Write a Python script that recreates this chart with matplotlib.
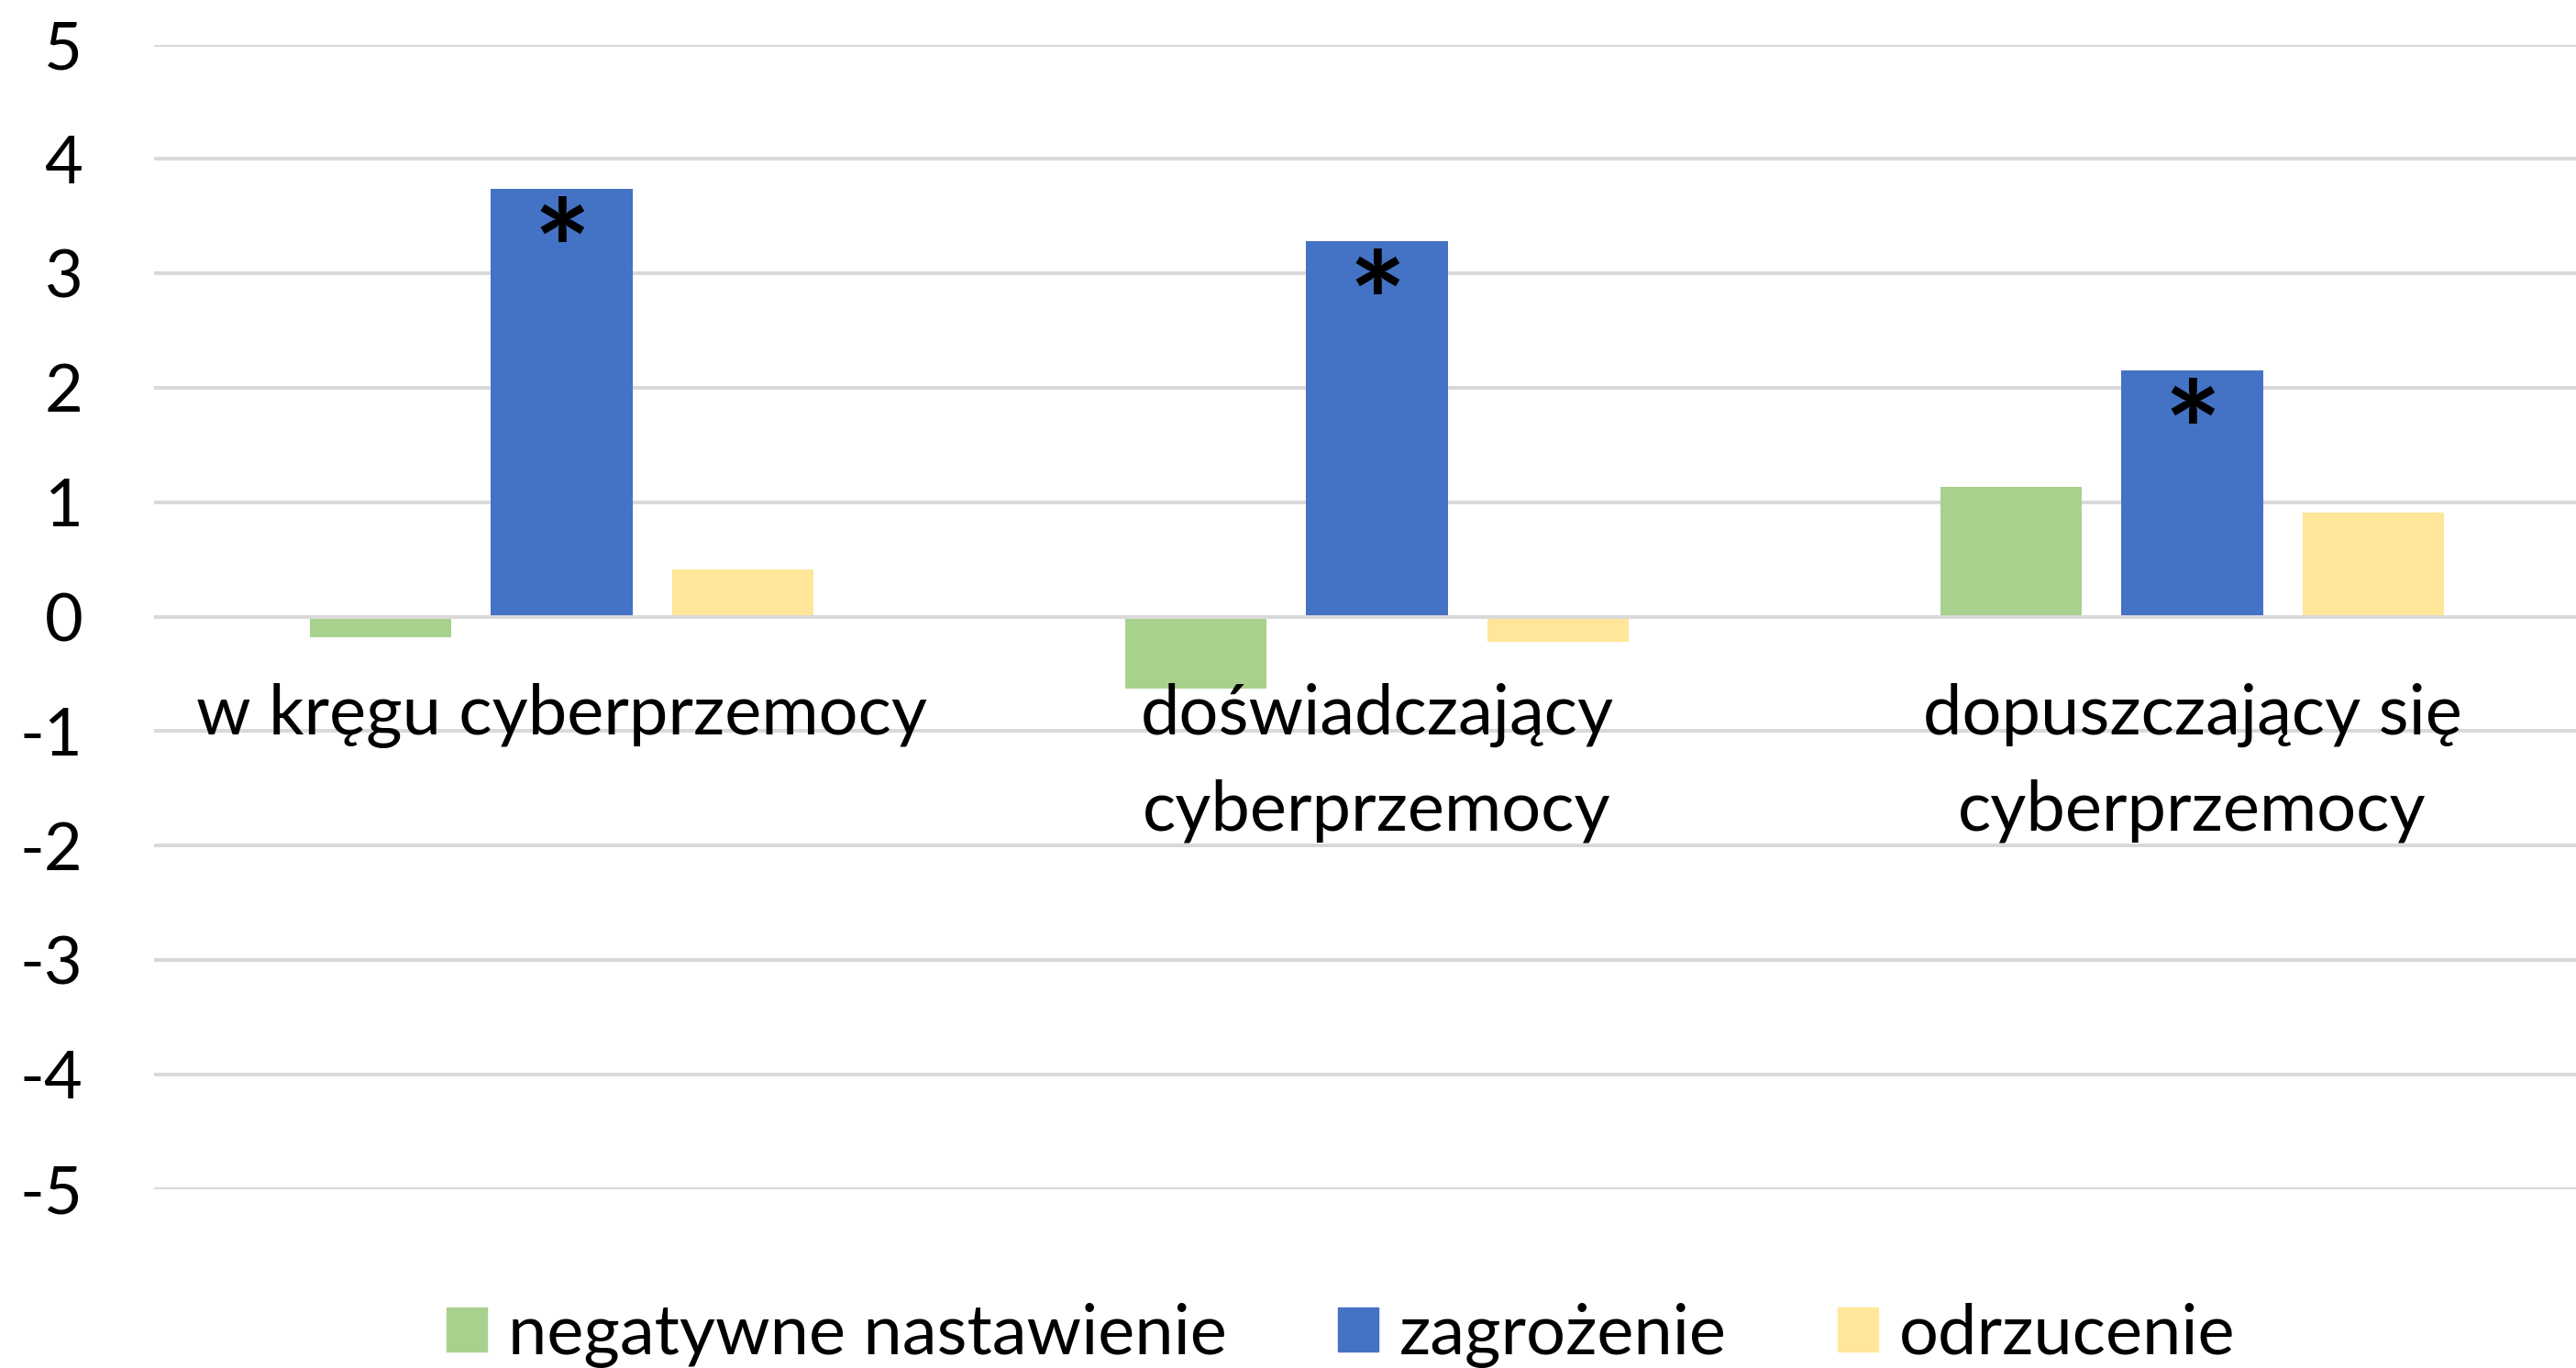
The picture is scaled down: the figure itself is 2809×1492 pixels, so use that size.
import matplotlib
matplotlib.use('Agg')
import matplotlib.pyplot as plt
from matplotlib.patches import Patch
import numpy as np

plt.rcParams['font.family'] = ['Lato', 'DejaVu Sans']

# data
categories = ['w kręgu cyberprzemocy', 'doświadczający\ncyberprzemocy', 'dopuszczający się\ncyberprzemocy']
series_names = ['negatywne nastawienie', 'zagrożenie', 'odrzucenie']
negatywne = [-0.18, -0.63, 1.13]
zagrozenie = [3.74, 3.28, 2.15]
odrzucenie = [0.41, -0.22, 0.91]
significant = [True, True, True]  # asterisk on the blue bars
yticks = [5, 4, 3, 2, 1, 0, -1, -2, -3, -4, -5]

colors = ['#A9D18E', '#4472C4', '#FFE699']

W, H = 2809, 1492
fig = plt.figure(figsize=(W / 100, H / 100), dpi=100)
ax = fig.add_axes([168 / W, (H - 1296.5) / H, (W - 168) / W, 1248 / H])

x = np.arange(len(categories))
width = 0.174
offset = 0.222
for k, vals in enumerate([negatywne, zagrozenie, odrzucenie]):
    ax.bar(x + (k - 1) * offset, vals, width, color=colors[k], zorder=2)

ax.set_xlim(-0.5, -0.5 + (W - 168) / 889)
ax.set_ylim(-5, 5)
ax.set_yticks(yticks)
ax.set_yticklabels([str(t) for t in yticks])
ax.set_xticks([])
ax.tick_params(axis='y', length=0, pad=56, labelsize=52)
for s in ax.spines.values():
    s.set_visible(False)
for t in yticks:
    ax.axhline(t, color='#d9d9d9', lw=2.9, zorder=1 if t != 0 else 3)

# category labels just under the zero line
for i, lab in enumerate(categories):
    ax.annotate(lab, (i, 0), xytext=(0, -72), textcoords='offset pixels',
                ha='center', va='top', fontsize=54.6, linespacing=1.62)

# significance asterisks
for i, v in enumerate(zagrozenie):
    if significant[i]:
        ax.annotate('*', (i, v), xytext=(0, -10), textcoords='offset pixels',
                    ha='center', va='top', fontsize=106, fontweight='bold')

handles = [Patch(color=c) for c in colors]
fig.legend(handles, series_names, loc='center', bbox_to_anchor=(1462 / W, 1 - 1456 / H),
           ncol=3, frameon=False, fontsize=54.6, handlelength=0.58, handleheight=0.6,
           handletextpad=0.3, columnspacing=1.6)

fig.savefig('out.png', dpi=100)
